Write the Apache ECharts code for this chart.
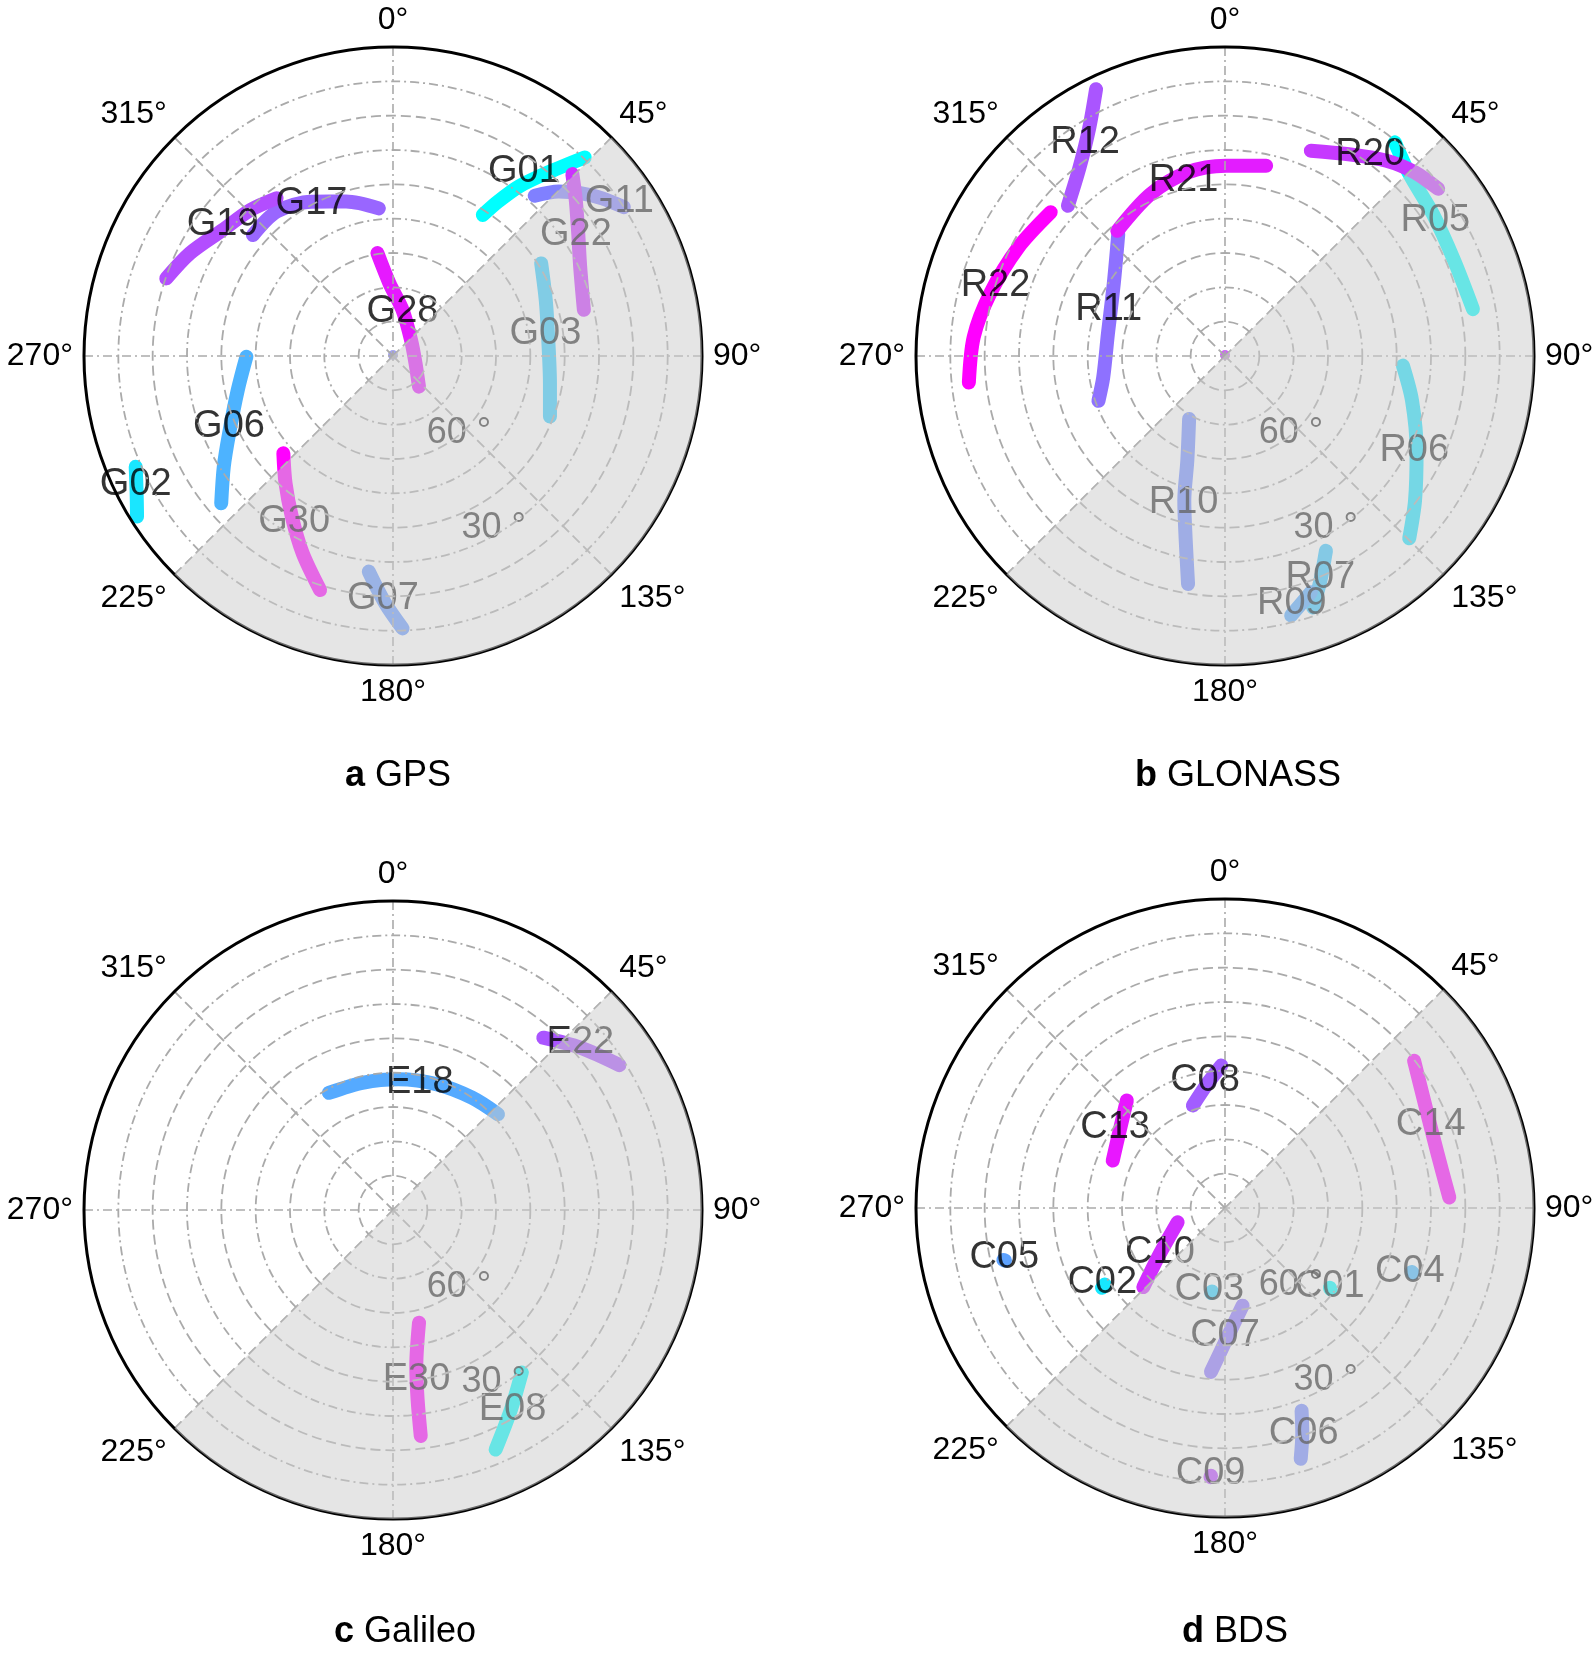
<!DOCTYPE html>
<html><head><meta charset="utf-8">
<script src="https://cdn.jsdelivr.net/npm/echarts@6/dist/echarts.min.js"></script>
<style>html,body{margin:0;padding:0;background:#fff}#c{width:1594px;height:1657px}</style>
</head><body><div id="c"></div>
<script>
// ---------- DATA: tracks as [azimuth deg, elevation deg] ----------
// GPS
const gpsNames = ['G01','G02','G03','G06','G07','G11','G17','G19','G22','G28','G30'];
const G01 = [[32.5,41.3],[34.2,35.7],[36.7,28.3],[40.4,19.5],[44.0,9.6]];
const G02 = [[246.7,8.4],[242.1,5.5],[237.9,2.0]];
const G03 = [[58.0,39.1],[69.8,42.6],[81.7,44.4],[99.9,43.6],[111.1,41.0]];
const G06 = [[269.7,47.3],[257.6,43.7],[244.7,37.2],[236.8,31.1],[229.4,24.1]];
const G07 = [[186.4,26.8],[181.8,17.9],[178.0,10.6]];
const G11 = [[41.5,27.7],[45.2,22.0],[49.0,17.7],[53.0,13.7],[57.2,10.0]];
const G17 = [[310.8,36.1],[321.2,36.0],[332.2,39.2],[343.1,43.0],[354.5,46.8]];
const G19 = [[288.9,20.2],[296.8,23.7],[306.5,28.3],[315.8,30.6],[323.6,32.9]];
const G22 = [[44.6,15.6],[49.5,20.0],[56.5,25.3],[64.5,29.6],[76.4,32.8]];
const G28 = [[351.4,59.7],[357.2,68.8],[11.7,76.3],[48.7,83.0],[108.0,83.1],[139.7,78.3]];
const G30 = [[228.4,47.3],[220.2,41.5],[212.2,34.7],[204.6,26.8],[197.3,18.6]];
const gpsTracks = [G01,G02,G03,G06,G07,G11,G17,G19,G22,G28,G30];
const gpsLabelAt = [[35.4,24.2],[243.4,6.2],[81.5,45.1],[246.7,38.0],[182.4,19.4],[55.7,10.2],[331.9,39.6],[307.6,27.4],[56.5,26.1],[12.1,76.8],[210.8,33.8]];
const gpsZenith = [[0,89.7]];

// GLONASS
const gloNames = ['R05','R06','R07','R09','R10','R11','R12','R20','R21','R22'];
const R05 = [[38.5,10.5],[45.5,14.6],[55.8,16.7],[67.5,17.7],[79.3,16.5]];
const R06 = [[93.1,38.1],[103.4,34.0],[116.2,27.8],[127.2,20.5],[134.7,14.5]];
const R07 = [[152.6,26.1],[157.0,18.9],[160.7,12.4]];
const R09 = [[160.0,16.8],[165.7,12.0]];
const R10 = [[209.7,68.9],[199.8,57.6],[195.7,46.2],[192.0,35.0],[189.2,22.7]];
const R11 = [[318.8,42.8],[302.9,51.4],[280.6,55.3],[260.1,54.0],[250.5,50.9]];
const R12 = [[334.2,3.7],[329.3,12.6],[322.4,20.6],[313.7,26.7]];
const R20 = [[22.7,25.2],[31.5,21.1],[39.6,16.2],[45.9,13.1],[51.9,11.1]];
const R21 = [[319.3,41.9],[335.3,38.1],[348.7,35.4],[0.3,34.6],[12.2,33.3]];
const R22 = [[309.5,24.2],[297.7,22.0],[284.8,19.2],[274.3,16.6],[264.1,15.0]];
const gloTracks = [R05,R06,R07,R09,R10,R11,R12,R20,R21,R22];
const gloLabelAt = [[57.3,17.2],[116.5,28.4],[156.7,19.8],[164.9,15.2],[195.8,45.7],[292.0,53.5],[326.8,15.6],[35.7,17.6],[346.7,37.5],[287.0,20.1]];
const gloZenith = [[0,89.7]];

// Galileo
const galNames = ['E08','E18','E22','E30'];
const E08 = [[141.6,29.6],[149.4,22.5],[156.8,14.1]];
const E18 = [[331.3,51.1],[347.0,51.9],[2.3,51.9],[19.4,51.2],[35.1,50.0],[47.6,48.6]];
const E22 = [[41.1,23.4],[49.1,17.8],[57.4,11.7]];
const E30 = [[167.0,56.3],[171.5,44.1],[172.6,34.4],[173.0,23.7]];
const galTracks = [E08,E18,E22,E30];
const galLabelAt = [[149.1,22.2],[11.9,52.1],[48.2,16.8],[172.1,40.2]];

// BDS
const bdsNames = ['C01','C02','C03','C04','C05','C06','C07','C08','C09','C10','C13','C14'];
const C01 = [[127.3,51.6],[127.6,51.2]];
const C02 = [[237.5,48.5],[237.0,47.3]];
const C03 = [[188.9,65.4],[189.2,64.9]];
const C04 = [[108.9,32.5],[109.2,32.0]];
const C05 = [[256.6,24.1],[256.8,23.7]];
const C06 = [[159.3,26.9],[161.1,20.5],[163.2,13.7]];
const C07 = [[169.8,61.1],[179.6,51.5],[184.9,42.1]];
const C08 = [[358.5,48.5],[351.8,53.5],[342.6,58.7]];
const C09 = [[183.0,11.9],[183.1,11.5]];
const C10 = [[253.3,75.6],[234.9,66.8],[225.9,56.9]];
const C13 = [[317.6,47.6],[306.4,51.9],[292.9,54.5]];
const C14 = [[52.1,20.2],[63.4,24.6],[75.7,26.1],[87.3,24.6]];
const bdsTracks = [C01,C02,C03,C04,C05,C06,C07,C08,C09,C10,C13,C14];
const bdsLabelAt = [[126.8,51.9],[238.8,48.2],[190.8,65.7],[108.9,33.1],[257.3,24.1],[160.8,20.3],[180.0,52.9],[351.1,52.4],[183.1,12.5],[235.8,67.1],[306.3,50.3],[67.8,25.3]];

// radial tick labels [azimuth, elevation]
const rLabelText = ['60 °','30 °'];
const rLabelAt = [[139.6,60.4],[149.7,31.9]];
// obstructed (shaded) azimuth range
const shadeRange = [45, 225];
const angleTicks = {min:0, max:360, interval:45};

// ---------- STYLE / LAYOUT ----------
const FONT = 'Liberation Sans, Arial, Helvetica, sans-serif';
const GRID = '#aaaaaa';
const R = 309;
const panels = [
  {letter:'a', title:'GPS', names:gpsNames, tracks:gpsTracks, labels:gpsLabelAt, center:[393,356], tx:393, ty:753, zenith:gpsZenith, zColor:'#8c8ce8'},
  {letter:'b', title:'GLONASS', names:gloNames, tracks:gloTracks, labels:gloLabelAt, center:[1225,356], tx:1233, ty:753, zenith:gloZenith, zColor:'#c23cf5'},
  {letter:'c', title:'Galileo', names:galNames, tracks:galTracks, labels:galLabelAt, center:[393,1210], tx:400, ty:1609},
  {letter:'d', title:'BDS', names:bdsNames, tracks:bdsTracks, labels:bdsLabelAt, center:[1225,1208], tx:1230, ty:1609}
];
function cool(t){ // matplotlib 'cool' colormap
  const r = Math.round(255*t), g = Math.round(255*(1-t));
  return 'rgb('+r+','+g+',255)';
}
const T = 'rgba(0,0,0,0)';
const polar=[], angleAxis=[], radiusAxis=[], series=[], title=[];

panels.forEach((p,i)=>{
  const b = i*3;
  polar.push({center:p.center, radius:R});
  polar.push({center:p.center, radius:R*80/90});
  polar.push({center:p.center, radius:R});
  // P1: border, angle labels, dashed diagonal spokes, dashed even rings
  angleAxis.push({polarIndex:b, type:'value', min:angleTicks.min, max:angleTicks.max, interval:angleTicks.interval, startAngle:90, clockwise:true, z:5,
    axisLine:{show:true, lineStyle:{color:'#000', width:3}}, axisTick:{show:false},
    axisLabel:{show:true, margin:11, fontSize:32, color:'#000', fontFamily:FONT, formatter:v=> v>=360 ? '' : v+'°'},
    splitLine:{show:true, lineStyle:{color:[T,GRID], type:[10,5], width:1.8}}});
  radiusAxis.push({polarIndex:b, type:'value', min:0, max:90, interval:20, inverse:true, z:5,
    axisLine:{show:false}, axisTick:{show:false}, axisLabel:{show:false},
    splitLine:{show:true, lineStyle:{color:[T,GRID,GRID,GRID,GRID,GRID], type:[10,5], width:1.8}}});
  // P2: dash-dot odd rings
  angleAxis.push({polarIndex:b+1, type:'value', min:0, max:360, startAngle:90, show:false});
  radiusAxis.push({polarIndex:b+1, type:'value', min:0, max:80, interval:20, inverse:true, z:5,
    axisLine:{show:false}, axisTick:{show:false}, axisLabel:{show:false},
    splitLine:{show:true, lineStyle:{color:GRID, type:[9,4,2,4], width:1.8}}});
  // P3: dash-dot cardinal spokes
  angleAxis.push({polarIndex:b+2, type:'value', min:0, max:360, interval:90, startAngle:90, z:5,
    axisLine:{show:false}, axisTick:{show:false}, axisLabel:{show:false},
    splitLine:{show:true, lineStyle:{color:GRID, type:[9,4,2,4], width:1.6}}});
  radiusAxis.push({polarIndex:b+2, type:'value', min:0, max:90, inverse:true, show:false});

  const n = p.names.length;
  p.tracks.forEach((tr,k)=>{
    series.push({type:'line', coordinateSystem:'polar', polarIndex:b, z:2, silent:true,
      showSymbol:false, symbol:'none', smooth:0.3, clip:false,
      lineStyle:{width:14, color:cool(n>1 ? k/(n-1) : 0), cap:'round', join:'round'},
      data: tr.map(d=>[d[1], d[0]])});
  });
  if (p.zenith) {
    series.push({type:'scatter', coordinateSystem:'polar', polarIndex:b, z:2, silent:true,
      symbolSize:10, itemStyle:{color:p.zColor}, data:p.zenith.map(d=>[d[1], d[0]])});
  }
  // satellite labels
  series.push({type:'scatter', coordinateSystem:'polar', polarIndex:b, z:3, silent:true,
    symbolSize:1, itemStyle:{color:T},
    label:{show:true, position:'inside', formatter:'{b}', fontSize:38, color:'#000', fontFamily:FONT},
    data: p.names.map((nm,k)=>({name:nm, value:[p.labels[k][1], p.labels[k][0]]}))});
  // radial tick labels
  series.push({type:'scatter', coordinateSystem:'polar', polarIndex:b, z:3, silent:true,
    symbolSize:1, itemStyle:{color:T},
    label:{show:true, position:'inside', formatter:'{b}', fontSize:36, color:'#000', fontFamily:FONT},
    data: rLabelText.map((t,k)=>({name:t, value:[rLabelAt[k][1], rLabelAt[k][0]]}))});
  // shaded obstruction sector
  series.push({type:'custom', coordinateSystem:'polar', polarIndex:b, z:10, silent:true,
    data:[[0, shadeRange[0], shadeRange[1]]], encode:{radius:0, angle:1},
    renderItem:(params, api)=>{
      const a1 = api.value(1), a2 = api.value(2);
      const c = api.coord([90, 0]);
      const p1 = api.coord([0, a1]);
      const p2 = api.coord([0, a2]);
      const r = Math.hypot(p1[0]-c[0], p1[1]-c[1]);
      return {type:'sector', shape:{cx:c[0], cy:c[1], r0:0, r:r,
        startAngle:Math.atan2(p1[1]-c[1], p1[0]-c[0]),
        endAngle:Math.atan2(p2[1]-c[1], p2[0]-c[0]), clockwise:true},
        style:{fill:'rgba(204,204,204,0.51)'}};
    }});
  title.push({text:'{b|'+p.letter+'} '+p.title, left:p.tx, top:p.ty, textAlign:'center',
    textStyle:{fontSize:36, fontWeight:'normal', color:'#000', fontFamily:FONT,
      rich:{b:{fontWeight:'bold', fontSize:36, color:'#000', fontFamily:FONT}}}});
});

const chart = echarts.init(document.getElementById('c'), null, {renderer:'canvas'});
chart.setOption({animation:false, backgroundColor:'#fff', title, polar, angleAxis, radiusAxis, series});
</script></body></html>
